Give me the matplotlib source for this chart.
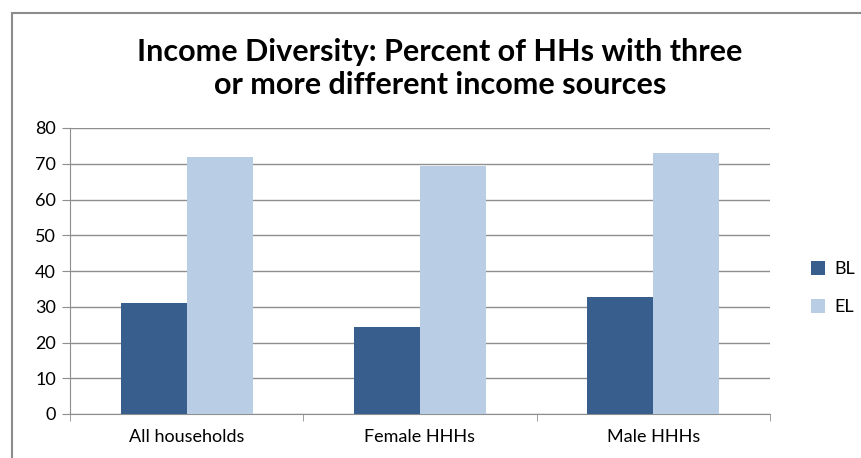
import numpy as np
import matplotlib
matplotlib.use("Agg")
import matplotlib.pyplot as plt
from matplotlib.patches import Rectangle

categories = ["All households", "Female HHHs", "Male HHHs"]
bl_values = [31, 24.3, 32.8]
el_values = [71.8, 69.5, 72.9]
series_names = ["BL", "EL"]

plt.rcParams['font.family'] = ['Lato', 'DejaVu Sans']

fig = plt.figure(figsize=(8.61, 4.58), dpi=100)
fig.patches.append(Rectangle((12 / 861, -0.1), 1.2, (458 - 13) / 458 + 0.1,
                             transform=fig.transFigure, fill=False,
                             edgecolor="#8c8c8c", linewidth=1.5))

ax = fig.add_axes([70 / 861, 44 / 458, 700 / 861, 286 / 458])

x = np.arange(len(categories))
w = 0.283
ax.bar(x - w / 2, bl_values, w, color="#385e8e", label=series_names[0], zorder=3)
ax.bar(x + w / 2, el_values, w, color="#b9cde5", label=series_names[1], zorder=3)

ax.set_xlim(-0.5, len(categories) - 0.5)
ax.set_ylim(0, 80)
ax.set_yticks(range(0, 81, 10))
ax.yaxis.grid(True, color="#8e8e8e", linewidth=1.0, zorder=0)
ax.set_axisbelow(True)

ax.set_xticks(x)
ax.set_xticklabels(categories, fontsize=13)
ax.tick_params(axis="x", length=0, pad=11)
ax.set_xticks(np.arange(-0.5, len(categories)), minor=True)
ax.tick_params(axis="x", which="minor", length=5, color="#8e8e8e")
ax.tick_params(axis="y", labelsize=13, length=6, color="#8e8e8e", pad=4)

for s in ["top", "right"]:
    ax.spines[s].set_visible(False)
for s in ["left", "bottom"]:
    ax.spines[s].set_color("#8e8e8e")

fig.text(0.511, 0.851, "Income Diversity: Percent of HHs with three\nor more different income sources",
         ha="center", va="center", fontsize=22, fontweight="bold", linespacing=1.2)

ax.legend(loc="center left", bbox_to_anchor=(1.035, 0.44), frameon=False,
          fontsize=13, handlelength=0.8, handleheight=0.8, labelspacing=1.2,
          handletextpad=0.5)

fig.savefig("out.png", dpi=100)
